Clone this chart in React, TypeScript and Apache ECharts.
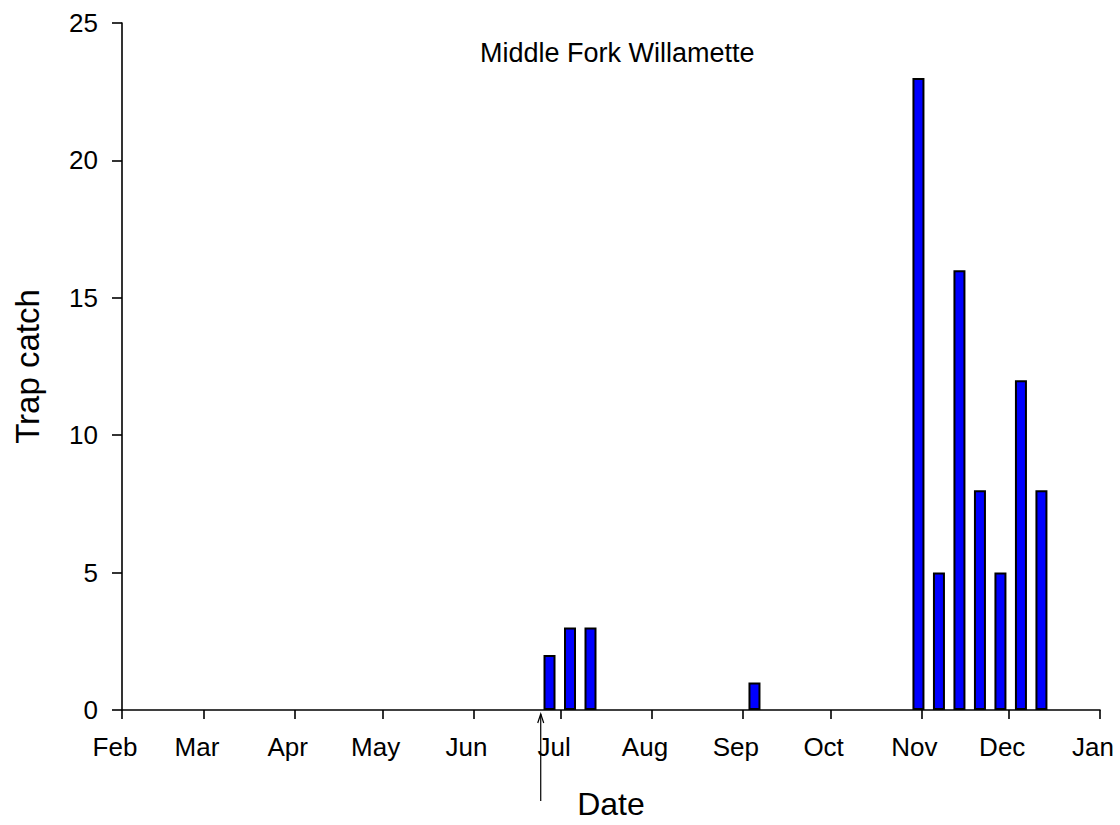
import React, { useEffect, useRef } from "react";
import * as echarts from "echarts";

const monthLabels = ["Feb", "Mar", "Apr", "May", "Jun", "Jul", "Aug", "Sep", "Oct", "Nov", "Dec", "Jan"];
const monthStarts = [
  "2009-02-01", "2009-03-01", "2009-04-01", "2009-05-01", "2009-06-01", "2009-07-01",
  "2009-08-01", "2009-09-01", "2009-10-01", "2009-11-01", "2009-12-01", "2010-01-01",
];
const sampleDates = [
  "2009-06-27", "2009-07-04", "2009-07-11", "2009-09-05", "2009-10-31", "2009-11-07",
  "2009-11-14", "2009-11-21", "2009-11-28", "2009-12-05", "2009-12-12",
];
const trapCatch = [2, 3, 3, 1, 23, 5, 16, 8, 5, 12, 8];
const yTicks = [0, 5, 10, 15, 20, 25];
const arrowDate = "2009-06-24";
const chartTitle = "Middle Fork Willamette";

const FONT = "'Liberation Sans', Arial, sans-serif";

function ts(s: string): number {
  const [y, m, d] = s.split("-").map(Number);
  return new Date(y, m - 1, d).getTime();
}

export default function App() {
  const ref = useRef<HTMLDivElement>(null);
  useEffect(() => {
    if (!ref.current) return;
    const chart = echarts.init(ref.current, undefined, { renderer: "svg" });
    const tickTs = monthStarts.map(ts);
    const labelOf = (v: number) => {
      const i = tickTs.findIndex((t) => Math.abs(t - v) < 43200000);
      return i >= 0 ? monthLabels[i] : "";
    };
    chart.setOption({
      animation: false,
      backgroundColor: "#ffffff",
      textStyle: { fontFamily: FONT },
      title: {
        text: chartTitle,
        left: 480,
        top: 39,
        padding: 0,
        textStyle: { fontSize: 27, fontWeight: "normal", color: "#000", fontFamily: FONT },
      },
      grid: { left: 122, right: 20, top: 23, bottom: 114 },
      xAxis: {
        type: "value",
        min: tickTs[0],
        max: tickTs[tickTs.length - 1],
        name: "Date",
        nameLocation: "middle",
        nameGap: 78,
        nameTextStyle: { fontSize: 32, color: "#000", fontFamily: FONT },
        axisLine: { show: true, onZero: false, lineStyle: { color: "#000", width: 1.6 } },
        axisTick: { show: true, inside: false, length: 9, customValues: tickTs, lineStyle: { color: "#000", width: 1.6 } },
        axisLabel: {
          customValues: tickTs,
          formatter: (v: number) => labelOf(v),
          fontSize: 26,
          color: "#000",
          fontFamily: FONT,
          margin: 24,
          padding: [0, 14, 0, 0],
          showMinLabel: true,
          showMaxLabel: true,
          hideOverlap: false,
        },
        splitLine: { show: false },
      },
      yAxis: {
        type: "value",
        min: yTicks[0],
        max: yTicks[yTicks.length - 1],
        interval: 5,
        name: "Trap catch",
        nameLocation: "middle",
        nameRotate: 90,
        nameGap: 78,
        nameTextStyle: { fontSize: 33, color: "#000", fontFamily: FONT },
        axisLine: { show: true, onZero: false, lineStyle: { color: "#000", width: 1.6 } },
        axisTick: { show: true, inside: false, length: 10, lineStyle: { color: "#000", width: 1.6 } },
        axisLabel: { fontSize: 26, color: "#000", fontFamily: FONT, margin: 24 },
        splitLine: { show: false },
      },
      series: [
        {
          type: "bar",
          data: sampleDates.map((d, i) => [ts(d), trapCatch[i]]),
          barWidth: 12,
          itemStyle: { color: "#0000ff", borderColor: "#000", borderWidth: 2 },
        },
      ],
    });
    const ax = chart.convertToPixel({ xAxisIndex: 0 }, ts(arrowDate)) as number;
    const y0 = chart.convertToPixel({ yAxisIndex: 0 }, 0) as number;
    chart.setOption({
      graphic: [
        {
          type: "line",
          shape: { x1: ax, y1: y0 + 91, x2: ax, y2: y0 + 4 },
          style: { stroke: "#000", lineWidth: 1.2 },
        },
        {
          type: "polyline",
          shape: { points: [[ax - 3, y0 + 13], [ax, y0 + 4], [ax + 3, y0 + 13]] },
          style: { stroke: "#000", lineWidth: 1.2, fill: "none" },
        },
      ],
    });
    return () => chart.dispose();
  }, []);
  return (
    <div
      ref={ref}
      style={{ position: "fixed", left: 0, top: 0, width: 1120, height: 825, background: "#fff" }}
    />
  );
}
